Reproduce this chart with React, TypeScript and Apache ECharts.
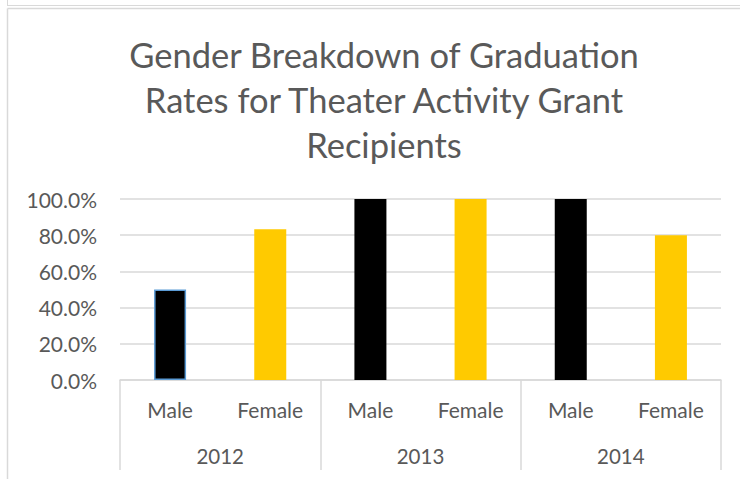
import React, { useEffect, useRef } from "react";
import * as echarts from "echarts";

const titleLines = [
  "Gender Breakdown of Graduation",
  "Rates for Theater Activity Grant",
  "Recipients",
];
const genders = ["Male", "Female", "Male", "Female", "Male", "Female"];
const years = ["2012", "2013", "2014"];
const rates = [0.5, 0.833, 1.0, 1.0, 1.0, 0.8];
const yTicks = [0, 0.2, 0.4, 0.6, 0.8, 1.0];

const MALE = "#000000";
const FEMALE = "#FFCA00";
const GRID = "#D9D9D9";
const TEXT = "#595959";
const FONT = "Lato, 'Open Sans', sans-serif";

export default function App() {
  const ref = useRef<HTMLDivElement>(null);
  useEffect(() => {
    if (!ref.current) return;
    const chart = echarts.init(ref.current, null, { renderer: "svg" });
    chart.setOption({
      animation: false,
      backgroundColor: "#ffffff",
      title: {
        text: titleLines.join("\n"),
        left: 379,
        textAlign: "center",
        top: 27,
        textStyle: {
          color: TEXT,
          fontFamily: FONT,
          fontSize: 34.5,
          fontWeight: 400,
          lineHeight: 45,
        },
      },
      graphic: [
        { type: "line", shape: { x1: 7.5, y1: 0, x2: 7.5, y2: 6 }, style: { stroke: GRID, lineWidth: 1 } },
        { type: "line", shape: { x1: 7.5, y1: 5.5, x2: 740, y2: 5.5 }, style: { stroke: GRID, lineWidth: 1 } },
        { type: "line", shape: { x1: 7.5, y1: 8.5, x2: 740, y2: 8.5 }, style: { stroke: GRID, lineWidth: 1.5 } },
        { type: "line", shape: { x1: 7.5, y1: 8.5, x2: 7.5, y2: 479 }, style: { stroke: GRID, lineWidth: 1.5 } },
      ],
      grid: { left: 120, right: 19, top: 199, bottom: 99, containLabel: false },
      xAxis: [
        {
          type: "category",
          data: genders,
          axisLine: { show: true, lineStyle: { color: GRID, width: 1.5 } },
          axisTick: { show: false },
          axisLabel: { interval: 0, margin: 19, color: TEXT, fontFamily: FONT, fontSize: 21 },
        },
        {
          type: "category",
          data: years,
          position: "bottom",
          axisLine: { show: false },
          axisTick: { show: true, length: 90, lineStyle: { color: GRID, width: 1.5 } },
          axisLabel: { interval: 0, margin: 65, color: TEXT, fontFamily: FONT, fontSize: 20.5 },
        },
      ],
      yAxis: {
        type: "value",
        min: yTicks[0],
        max: yTicks[yTicks.length - 1],
        interval: 0.2,
        axisLine: { show: false },
        axisTick: { show: false },
        splitLine: { lineStyle: { color: GRID, width: 1.5 } },
        axisLabel: {
          margin: 23,
          color: TEXT,
          fontFamily: FONT,
          fontSize: 21,
          formatter: (v: number) => (v * 100).toFixed(1) + "%",
        },
      },
      series: [
        {
          type: "bar",
          xAxisIndex: 0,
          barWidth: 32,
          data: rates.map((v, i) => ({
            value: v,
            itemStyle:
              i === 0
                ? { color: MALE, borderColor: "#5B9BD5", borderWidth: 1.5 }
                : { color: i % 2 === 0 ? MALE : FEMALE },
          })),
        },
      ],
    });
    return () => chart.dispose();
  }, []);
  return <div ref={ref} style={{ width: 740, height: 479, position: "absolute", left: 0, top: 0 }} />;
}
